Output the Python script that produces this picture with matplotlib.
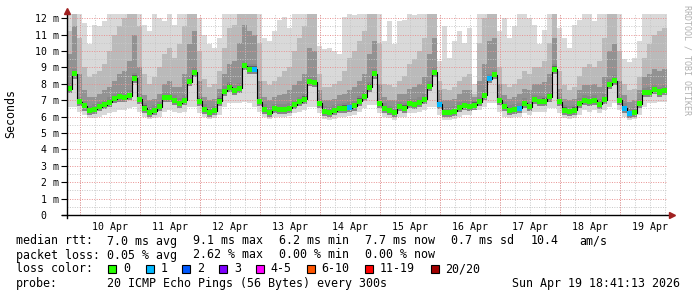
import numpy as np
import pandas as pd
import matplotlib
matplotlib.use("Agg")
import matplotlib.pyplot as plt
import matplotlib.dates as mdates
from matplotlib.patches import Rectangle

W, H = 697, 297
MONO = "DejaVu Sans Mono"

# 2-hourly samples, 10 days ending at the graph time
end_time = pd.Timestamp("2026-04-19 18:41:13")
start_time = end_time - pd.Timedelta(days=10)
step = pd.Timedelta(hours=2)

# median rtt (ms)
median_ms = [
    7.7, 8.6, 6.9, 6.65, 6.35, 6.45, 6.6, 6.72, 6.88, 7.08,
    7.2, 7.15, 7.28, 8.35, 7.05, 6.52, 6.25, 6.36, 6.6, 7.17,
    7.15, 6.97, 6.82, 7.0, 8.13, 8.7, 6.95, 6.45, 6.27, 6.35,
    6.95, 7.55, 7.8, 7.6, 7.72, 9.1, 8.9, 8.9, 6.9, 6.42,
    6.25, 6.47, 6.45, 6.45, 6.5, 6.72, 6.9, 7.07, 8.15, 8.1,
    6.8, 6.3, 6.25, 6.36, 6.47, 6.52, 6.55, 6.65, 6.95, 7.22,
    7.8, 8.6, 6.8, 6.5, 6.35, 6.25, 6.6, 6.52, 6.78, 6.75,
    6.87, 7.05, 7.85, 8.7, 6.75, 6.25, 6.25, 6.33, 6.55, 6.68,
    6.62, 6.7, 6.9, 7.3, 8.3, 8.55, 7.0, 6.6, 6.37, 6.45,
    6.5, 6.82, 6.6, 7.02, 6.92, 6.95, 7.2, 8.9, 6.9, 6.4,
    6.32, 6.4, 6.8, 7.0, 6.93, 7.0, 6.75, 7.03, 7.95, 8.2,
    7.0, 6.5, 6.2, 6.25, 6.78, 7.45, 7.48, 7.65, 7.5, 7.6,
]

# smoke: slowest ping, upper bands, fastest ping (ms)
ping_max = [
    12.4, 12.4, 12.4, 11.7, 10.4, 11.6, 11.5, 11.8, 12.4, 12.4,
    12.4, 12.4, 12.4, 12.4, 12.4, 11.6, 11.2, 12.4, 12.0, 11.8,
    12.4, 11.6, 12.4, 12.4, 12.4, 12.4, 12.0, 11.0, 10.4, 10.2,
    10.8, 12.4, 12.4, 12.4, 12.4, 12.4, 12.4, 12.4, 12.4, 10.8,
    10.6, 11.2, 11.9, 12.1, 11.4, 12.4, 12.4, 12.4, 12.4, 12.4,
    10.3, 10.1, 10.2, 10.0, 9.8, 12.1, 12.4, 12.2, 12.4, 12.4,
    12.4, 12.4, 12.4, 10.6, 11.8, 10.4, 11.8, 11.9, 12.4, 12.2,
    12.4, 12.4, 12.4, 12.4, 9.4, 11.5, 9.6, 10.6, 11.2, 10.5,
    11.4, 8.0, 12.4, 12.4, 12.4, 12.4, 11.2, 12.0, 10.8, 11.5,
    12.3, 12.4, 12.0, 11.6, 10.4, 11.3, 12.4, 12.4, 11.4, 10.8,
    10.2, 11.6, 11.9, 12.4, 12.4, 11.8, 12.4, 12.4, 12.4, 12.4,
    12.4, 9.5, 9.3, 9.6, 10.6, 12.4, 12.4, 12.4, 12.4, 12.4,
]
ping_hi = [
    11.2, 12.4, 10.8, 9.0, 8.4, 8.6, 8.8, 9.2, 10.0, 11.0,
    11.5, 12.0, 12.4, 12.4, 11.5, 8.6, 8.0, 8.4, 9.0, 9.8,
    10.2, 9.6, 10.4, 11.5, 12.4, 12.4, 10.0, 8.3, 7.8, 8.0,
    8.8, 10.2, 11.4, 11.6, 12.4, 12.4, 12.4, 12.4, 10.5, 8.2,
    7.9, 8.2, 8.4, 8.8, 9.0, 10.0, 10.8, 11.5, 12.4, 12.4,
    8.6, 7.8, 7.8, 8.0, 8.2, 8.8, 9.6, 10.0, 10.6, 11.2,
    12.4, 12.4, 10.5, 8.0, 7.9, 7.8, 8.2, 8.5, 9.2, 9.5,
    10.0, 10.8, 12.4, 12.4, 8.2, 7.7, 7.6, 7.8, 8.2, 8.4,
    8.6, 7.4, 10.5, 12.0, 12.4, 12.4, 9.0, 8.0, 7.8, 8.0,
    8.3, 8.8, 8.6, 9.0, 9.0, 9.4, 10.5, 12.4, 8.8, 7.9,
    7.6, 7.8, 8.5, 9.0, 9.2, 9.0, 9.4, 10.8, 12.4, 12.4,
    10.0, 8.0, 7.6, 7.7, 8.4, 9.6, 10.4, 11.0, 11.2, 11.4,
]
ping_mid = [
    9.8, 11.5, 8.6, 7.6, 7.2, 7.2, 7.4, 7.6, 7.8, 8.2,
    8.6, 8.8, 9.4, 11.0, 9.0, 7.3, 7.0, 7.1, 7.4, 8.0,
    8.2, 7.8, 7.8, 8.6, 10.4, 11.2, 8.2, 7.2, 7.0, 7.1,
    7.7, 8.6, 9.2, 9.4, 10.5, 11.6, 11.2, 11.0, 8.2, 7.2,
    7.0, 7.2, 7.3, 7.4, 7.6, 7.9, 8.2, 8.6, 10.2, 10.0,
    7.6, 7.0, 7.0, 7.1, 7.3, 7.4, 7.6, 7.8, 8.2, 8.6,
    9.8, 10.6, 8.0, 7.2, 7.0, 7.0, 7.4, 7.4, 7.7, 7.8,
    8.0, 8.4, 9.8, 10.8, 7.6, 7.0, 7.0, 7.1, 7.4, 7.6,
    7.6, 7.2, 8.2, 9.2, 10.6, 10.8, 8.0, 7.3, 7.1, 7.2,
    7.4, 7.7, 7.6, 8.0, 8.0, 8.1, 8.6, 10.8, 7.7, 7.1,
    7.0, 7.1, 7.6, 7.9, 7.9, 8.0, 7.8, 8.4, 10.0, 10.4,
    8.2, 7.3, 6.9, 7.0, 7.6, 8.4, 8.6, 8.9, 8.8, 8.9,
]
ping_min = [
    6.6, 6.6, 6.3, 6.1, 5.9, 5.9, 6.0, 6.1, 6.2, 6.3,
    6.4, 6.4, 6.5, 6.6, 6.3, 6.0, 5.85, 5.9, 6.0, 6.3,
    6.4, 6.3, 6.2, 6.3, 6.6, 6.6, 6.2, 5.95, 5.85, 5.9,
    6.1, 6.6, 6.8, 6.8, 6.8, 6.9, 6.8, 6.6, 6.3, 5.95,
    5.85, 5.95, 6.0, 6.0, 6.05, 6.2, 6.3, 6.4, 6.6, 6.6,
    6.2, 5.85, 5.8, 5.85, 5.95, 6.0, 6.05, 6.1, 6.3, 6.5,
    6.7, 6.7, 6.2, 6.0, 5.9, 5.8, 6.0, 6.0, 6.2, 6.2,
    6.3, 6.4, 6.6, 6.6, 6.1, 5.8, 5.8, 5.85, 6.0, 6.1,
    6.1, 6.4, 6.4, 6.6, 6.8, 6.8, 6.3, 6.0, 5.9, 5.95,
    6.0, 6.2, 6.1, 6.3, 6.3, 6.3, 6.5, 6.5, 6.2, 5.9,
    5.85, 5.9, 6.1, 6.4, 6.3, 6.4, 6.2, 6.4, 6.6, 6.8,
    6.4, 6.0, 5.8, 5.85, 6.1, 6.6, 6.8, 6.8, 6.9, 6.9,
]

# sample index -> pings lost (out of 20)
lost_pings = {37: 1, 56: 1, 74: 1, 84: 1, 90: 1, 111: 1, 112: 1}

loss_labels = ["0", "1", "2", "3", "4-5", "6-10", "11-19", "20/20"]
loss_colors = ["#26ff00", "#00b8ff", "#0059ff", "#7e00ff",
               "#ff00ff", "#ff5500", "#ff0000", "#a10000"]

rtt_stats = ["7.0 ms avg", "9.1 ms max", "6.2 ms min", "7.7 ms now",
             "0.7 ms sd", "10.4", "am/s"]
loss_stats = ["0.05 % avg", "2.62 % max", "0.00 % min", "0.00 % now"]
probe_text = "20 ICMP Echo Pings (56 Bytes) every 300s"
stamp_text = "Sun Apr 19 18:41:13 2026"


def loss_color(n):
    if n <= 3:
        return loss_colors[n]
    if n <= 5:
        return loss_colors[4]
    if n <= 10:
        return loss_colors[5]
    if n <= 19:
        return loss_colors[6]
    return loss_colors[7]


n = len(median_ms)
edges = pd.date_range(start_time, periods=n + 1, freq=step)
xe = mdates.date2num(edges.to_pydatetime())
xc = (xe[:-1] + xe[1:]) / 2


def ext(v):
    return np.append(v, v[-1])


med = np.array(median_ms)

fig = plt.figure(figsize=(W / 100, H / 100), dpi=100)
fig.patch.set_facecolor("white")
ax = fig.add_axes([67 / W, 1 - 215 / H, 600 / W, 201 / H])
ax.set_facecolor("white")

# smoke, light outside to dark near the median
ax.fill_between(xe, ext(ping_min), ext(ping_max), step="post",
                color="#d9d9d9", lw=0, zorder=1)
ax.fill_between(xe, ext(med), ext(ping_hi), step="post",
                color="#bababa", lw=0, zorder=2)
ax.fill_between(xe, ext(med), ext(ping_mid), step="post",
                color="#929292", lw=0, zorder=3)
ax.fill_between(xe, ext(med) - 0.28, ext(med) + 0.32, step="post",
                color="#888888", lw=0, zorder=4)
ax.fill_between(xe, ext(med) - 0.13, ext(med) + 0.16, step="post",
                color="#606060", lw=0, zorder=5)

# grid on top, rrdtool style
ylim_top = 201 / 16.4
dots = (0, (1, 1.5))
for v in np.arange(0.5, 12.1, 1.0):
    ax.axhline(v, color="#c8c8c8", lw=0.7, ls=dots, zorder=6)
for v in range(1, 13):
    ax.axhline(v, color="#e89090", lw=0.7, ls=dots, zorder=7)
six_hours = pd.date_range(start_time.ceil("6h"), end_time, freq="6h")
for t in mdates.date2num(six_hours.to_pydatetime()):
    ax.axvline(t, color="#c8c8c8", lw=0.7, ls=dots, zorder=6)
midnights = pd.date_range(start_time.ceil("D"), end_time, freq="D")
for t in mdates.date2num(midnights.to_pydatetime()):
    ax.axvline(t, color="#e89090", lw=0.7, ls=dots, zorder=7)

# median line with loss colored marks
ax.plot(xc, med, drawstyle="steps-mid", color="black", lw=0.8, zorder=8)
cols = [loss_color(lost_pings.get(i, 0)) for i in range(n)]
ax.scatter(xc, med, marker="s", s=13, c=cols, lw=0, zorder=9)

ax.set_xlim(xe[0], xe[-1])
ax.set_ylim(0, ylim_top)
ax.set_yticks(range(13))
ax.set_yticklabels(["0  "] + [f"{v} m" for v in range(1, 13)],
                   fontfamily=MONO, fontsize=7.1)
noons = pd.date_range(start_time.ceil("D") + pd.Timedelta(hours=12),
                      end_time, freq="D")
ax.set_xticks(mdates.date2num(noons.to_pydatetime()))
ax.set_xticklabels([t.strftime("%d %b") for t in noons],
                   fontfamily=MONO, fontsize=7.1)
ax.tick_params(axis="y", length=4, width=0.8, pad=1.5, direction="out")
ax.tick_params(axis="x", length=0, pad=5)
for s in ax.spines.values():
    s.set_visible(False)

# axes with arrows
ax.plot([-5 / 600, 1.005], [0, 0], transform=ax.transAxes, color="black",
        lw=1, clip_on=False, zorder=10)
ax.plot([0, 0], [-3 / 201, 1.0], transform=ax.transAxes, color="black",
        lw=1, clip_on=False, zorder=10)
ax.plot([1.008], [0], marker=">", ms=4, color="#a02020", transform=ax.transAxes,
        clip_on=False, zorder=11)
ax.plot([0], [1.015], marker="^", ms=4, color="#a02020", transform=ax.transAxes,
        clip_on=False, zorder=11)


def ftext(x, y, s, **kw):
    kw.setdefault("fontfamily", MONO)
    kw.setdefault("fontsize", 8.4)
    kw.setdefault("va", "center")
    fig.text(x / W, 1 - y / H, s, **kw)


ftext(11, 114, "Seconds", rotation=90, ha="center")
ftext(687, 5, "RRDTOOL / TOBI OETIKER", rotation=270, ha="center", va="top",
      fontsize=6, color="#b0b0b0")

col_x = [107.3, 193.3, 279, 365, 451, 530.7, 579]
ftext(16, 241, "median rtt:")
for x, s in zip(col_x, rtt_stats):
    ftext(x, 241, s)
ftext(16, 255, "packet loss:")
for x, s in zip(col_x, loss_stats):
    ftext(x, 255, s)

ftext(16, 269, "loss color:")
sq_x = [108.3, 145.7, 182.3, 219.3, 256, 306.7, 365, 430.7]
for x, lab, c in zip(sq_x, loss_labels, loss_colors):
    fig.add_artist(Rectangle((x / W, 1 - 273 / H), 8 / W, 8.5 / H,
                             transform=fig.transFigure, facecolor=c,
                             edgecolor="black", lw=0.8))
    ftext(x + 14.7, 269, lab)

ftext(16, 283, "probe:")
ftext(107.3, 283, probe_text)
ftext(680, 283, stamp_text, ha="right")

fig.savefig("out.png", dpi=100, facecolor="white")
